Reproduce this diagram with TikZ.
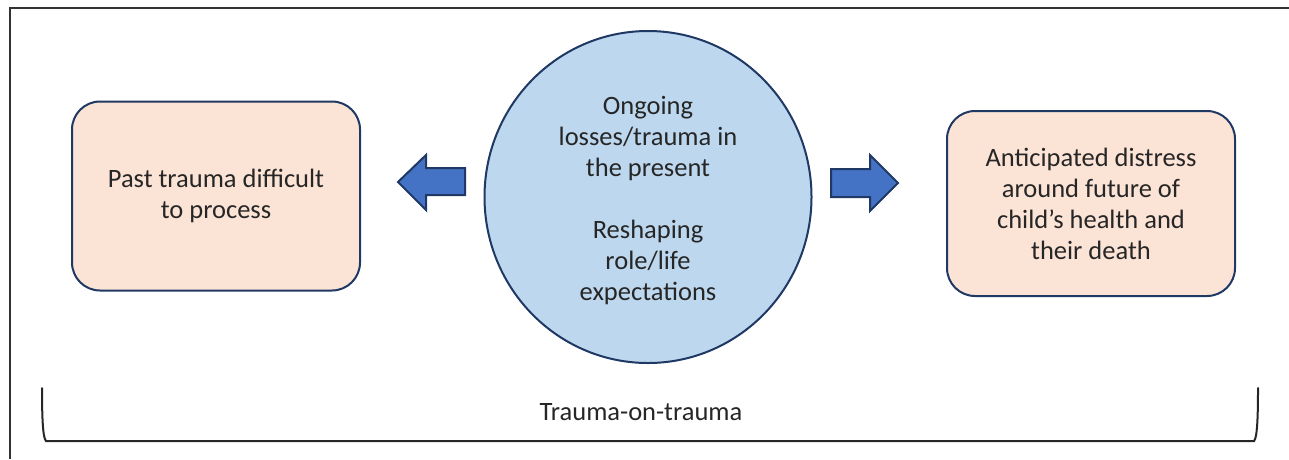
\documentclass[tikz,border=0pt]{standalone}
\usepackage{fontspec}
\setmainfont{Carlito}
\usepackage{tikz}
\usetikzlibrary{shapes.geometric}

\definecolor{navy}{HTML}{1F3864}
\definecolor{peach}{HTML}{FBE3D6}
\definecolor{paleblue}{HTML}{BDD7EE}
\definecolor{arrowblue}{HTML}{4472C4}
\definecolor{inkgray}{HTML}{262626}

\tikzset{
  stagebox/.style={draw=navy, line width=2pt, fill=peach, rounded corners=28pt,
    minimum width=288pt, align=center, text=inkgray},
  blockarrow/.style={draw=navy, line width=2pt, fill=arrowblue, line join=miter},
}

\begin{document}
\begin{tikzpicture}[x=1pt,y=-1pt,font=\fontsize{26.5}{31}\selectfont]
      \useasboundingbox (0,0) rectangle (1289,459);
      % outer frame, only top and left show
      \draw[line width=1.5pt, draw=black!80] (10,459) -- (10,8) -- (1289,8);
      \node[stagebox, minimum height=189pt] (past) at (216,196)
        {Past trauma difficult\\to process};
      \node[stagebox, minimum height=185pt] (future) at (1091,203.5)
        {Anticipated distress\\around future of\\child’s health and\\their death};
      \node[ellipse, draw=navy, line width=2pt, fill=paleblue, minimum width=327pt,
        minimum height=332pt, inner sep=0pt] (present) at (648,197) {};
      \node[align=center, text=inkgray, yshift=-4pt] (presenttext) at (present.center)
        {Ongoing\\losses/trauma in\\the present\\[31pt]Reshaping\\role/life\\expectations};
      % block arrows
      \draw[blockarrow] (398,182) -- (426,155) -- (426,168) -- (465,168)
        -- (465,195) -- (426,195) -- (426,210) -- cycle;
      \draw[blockarrow] (898,183) -- (870,155) -- (870,169) -- (831,169)
        -- (831,197) -- (870,197) -- (870,211) -- cycle;
      % brace under everything
      \draw[line width=2pt, draw=black!85, line cap=round]
        (42,388) .. controls (42,420) and (43,438) .. (46,441) -- (1254,441)
        .. controls (1257,438) and (1258,420) .. (1258,388);
      \node[text=inkgray] (span) at (641,412) {Trauma-on-trauma};
    \end{tikzpicture}
\end{document}
